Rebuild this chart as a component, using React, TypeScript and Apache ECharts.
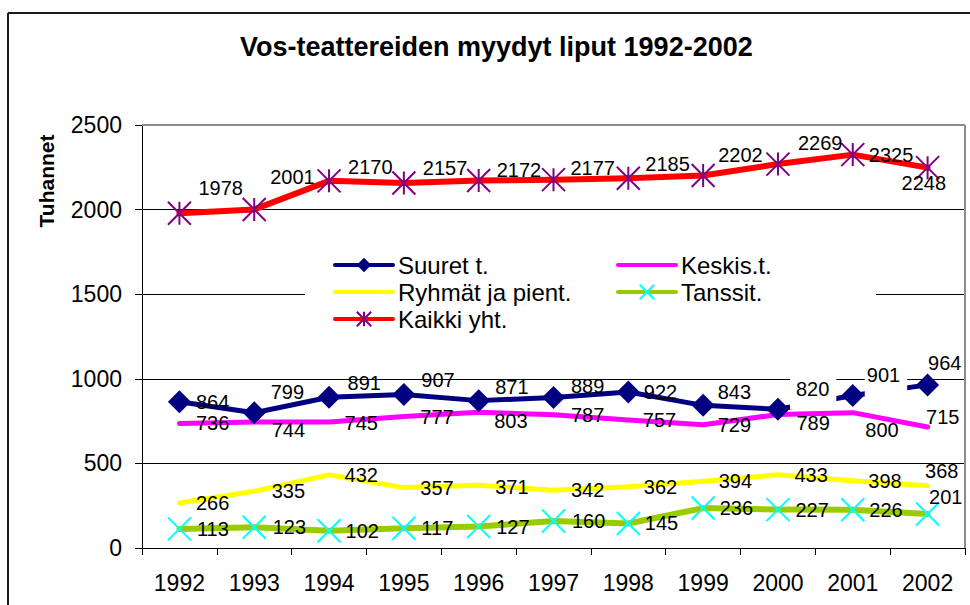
import React, { useEffect, useRef } from 'react';
import * as echarts from 'echarts';

// ---- data ----
const years = ['1992', '1993', '1994', '1995', '1996', '1997', '1998', '1999', '2000', '2001', '2002'];
const suuret = [864, 799, 891, 907, 871, 889, 922, 843, 820, 901, 964];
const keskis = [736, 744, 745, 777, 803, 787, 757, 729, 789, 800, 715];
const ryhmat = [266, 335, 432, 357, 371, 342, 362, 394, 433, 398, 368];
const tanssit = [113, 123, 102, 117, 127, 160, 145, 236, 227, 226, 201];
const kaikki = [1978, 2001, 2170, 2157, 2172, 2177, 2185, 2202, 2269, 2325, 2248];
const yTicks = { min: 0, max: 2500, interval: 500 };

// ---- label placement (layout only) ----
const suuretDx = [0, 0, 2, 1, 0, 1, -1, -2, -4.5, -4.5, -16];
const suuretDy = [0, -21, -14, -15, -14, -12, 0, -13, -20.5, -21, -22];
const keskisDx = [0, 1, -1, 0, -1, 1, -2, -2, 2, -4, -18];
const keskisDy = [0, 8, 1, 0, 9, 0, 0, 0, 8, 17, -10];
const ryhmatDx = [0, 1, -1, 0, 0, 1, -1, -1, 0, -1, -19];
const ryhmatDy = [0, 0, 0, 0, 2, 0, 0, 0, 0, 0, -15];
const tanssitDx = [0, 1, -1, 0, 0, 1, -1, -1, 0, -1, -16];
const tanssitDy = [0, 0, 0, 0, 0, 0, 0, 0, 0, 0, -17];
const kaikkiDx = [1.5, -1.5, 1.5, 1.5, 0.5, -0.5, -0.5, -2.5, 2.5, -1.5, -43.5];
const kaikkiDy = [-25, -32, -14, -15, -10, -12, -14, -20, -21, 0, 15];

const FONT = '"Liberation Sans", Arial, Helvetica, sans-serif';
const X_PATH = 'path://M0,0L10,10M10,0L0,10';
const STAR_PATH = 'path://M5,0L5,10M0,0L10,10M10,0L0,10';

function withLabels(values: number[], dx: number[], dy: number[], extra: Record<number, any> = {}) {
  return values.map((v, i) => ({
    value: v,
    label: { offset: [dx[i], dy[i]], ...(extra[i] || {}) },
  }));
}

export default function App() {
  const ref = useRef<HTMLDivElement>(null);
  useEffect(() => {
    const chart = echarts.init(ref.current!, null, { renderer: 'svg' });
    const labelBase = {
      show: true,
      position: 'right' as const,
      distance: 5,
      color: '#000',
      fontSize: 20,
      fontFamily: FONT,
    };
    const transparent = 'rgba(0,0,0,0)';
    const legendBase = {
      orient: 'vertical',
      top: 253,
      padding: 0,
      itemGap: 3,
      itemWidth: 58,
      itemHeight: 18,
      lineStyle: { width: 4 },
      textStyle: { fontSize: 24, color: '#000', fontFamily: FONT },
      selectedMode: false,
    };
    const option: any = {
      animation: false,
      backgroundColor: '#fff',
      title: {
        text: 'Vos-teattereiden myydyt liput 1992-2002',
        left: 240,
        top: 33,
        padding: 0,
        textStyle: { fontSize: 27, fontWeight: 'bold', color: '#000', fontFamily: FONT },
      },
      grid: { left: 142, top: 125, width: 823, height: 423, show: false },
      legend: [
        { ...legendBase, left: 333, data: ['Suuret t.', 'Ryhmät ja pient.', 'Kaikki yht.'] },
        { ...legendBase, left: 616, data: ['Keskis.t.', 'Tanssit.'] },
      ],
      xAxis: {
        type: 'category',
        data: years,
        boundaryGap: true,
        axisLine: { lineStyle: { color: '#000', width: 1 } },
        axisTick: { show: true, inside: false, length: 7, lineStyle: { color: '#000' } },
        axisLabel: { color: '#000', fontSize: 23, fontFamily: FONT, margin: 23 },
        splitLine: { show: false },
      },
      yAxis: {
        type: 'value',
        min: yTicks.min,
        max: yTicks.max,
        interval: yTicks.interval,
        axisLine: { show: true, lineStyle: { color: '#000', width: 1 } },
        axisTick: { show: true, inside: false, length: 7, lineStyle: { color: '#000' } },
        axisLabel: {
          color: '#000',
          fontSize: 23,
          fontFamily: FONT,
          margin: 20,
          formatter: (v: number) => String(v),
        },
        splitLine: { show: true, lineStyle: { color: '#000', width: 1 } },
      },
      graphic: [
        // white legend backdrop hiding the gridline
        { type: 'rect', z: 1, shape: { x: 305, y: 250, width: 571, height: 85 }, style: { fill: '#fff' } },
        // plot area border (top/right)
        { type: 'line', z: 1, shape: { x1: 142, y1: 125, x2: 965, y2: 125 }, style: { stroke: '#8c8c8c', lineWidth: 2 } },
        { type: 'line', z: 1, shape: { x1: 965, y1: 125, x2: 965, y2: 548 }, style: { stroke: '#8c8c8c', lineWidth: 2 } },
        // outer chart frame
        { type: 'line', z: 5, shape: { x1: 8, y1: 13, x2: 970, y2: 13 }, style: { stroke: '#1a1a1a', lineWidth: 2 } },
        { type: 'line', z: 5, shape: { x1: 8, y1: 13, x2: 8, y2: 605 }, style: { stroke: '#1a1a1a', lineWidth: 2 } },
        {
          type: 'text',
          x: 46,
          y: 181,
          rotation: Math.PI / 2,
          style: {
            text: 'Tuhannet',
            fontSize: 21,
            fontWeight: 'bold',
            fontFamily: FONT,
            fill: '#000',
            align: 'center',
            verticalAlign: 'middle',
          },
        },
      ],
      series: [
        {
          name: 'Suuret t.',
          type: 'line',
          data: withLabels(suuret, suuretDx, suuretDy, {
            8: { backgroundColor: '#fff', padding: [4, 7, 17, 6] },
            9: { backgroundColor: '#fff', padding: [2, 7, 22, 2] },
          }),
          symbol: 'diamond',
          symbolSize: 23,
          itemStyle: { color: '#000080' },
          lineStyle: { color: '#000080', width: 5, cap: 'round', join: 'round' },
          label: labelBase,
        },
        {
          name: 'Keskis.t.',
          type: 'line',
          data: withLabels(keskis, keskisDx, keskisDy),
          symbol: 'circle',
          symbolSize: 23,
          itemStyle: { color: transparent, borderColor: transparent, borderWidth: 0 },
          lineStyle: { color: '#ff00ff', width: 5, cap: 'round', join: 'round' },
          label: labelBase,
        },
        {
          name: 'Ryhmät ja pient.',
          type: 'line',
          data: withLabels(ryhmat, ryhmatDx, ryhmatDy),
          symbol: 'circle',
          symbolSize: 23,
          itemStyle: { color: transparent, borderColor: transparent, borderWidth: 0 },
          lineStyle: { color: '#ffff00', width: 5, cap: 'round', join: 'round' },
          label: labelBase,
        },
        {
          name: 'Tanssit.',
          type: 'line',
          data: withLabels(tanssit, tanssitDx, tanssitDy),
          symbol: X_PATH,
          symbolSize: 23,
          itemStyle: { color: '#00ffff', borderColor: '#00ffff', borderWidth: 2 },
          lineStyle: { color: '#99cc00', width: 6, cap: 'round', join: 'round' },
          label: labelBase,
        },
        {
          name: 'Kaikki yht.',
          type: 'line',
          data: withLabels(kaikki, kaikkiDx, kaikkiDy),
          symbol: STAR_PATH,
          symbolSize: 23,
          itemStyle: { color: '#800080', borderColor: '#800080', borderWidth: 2 },
          lineStyle: { color: '#ff0000', width: 6, cap: 'round', join: 'round' },
          label: labelBase,
        },
      ],
    };
    chart.setOption(option);
    return () => chart.dispose();
  }, []);
  return (
    <div
      ref={ref}
      style={{ position: 'absolute', left: 0, top: 0, width: 970, height: 605 }}
    />
  );
}
